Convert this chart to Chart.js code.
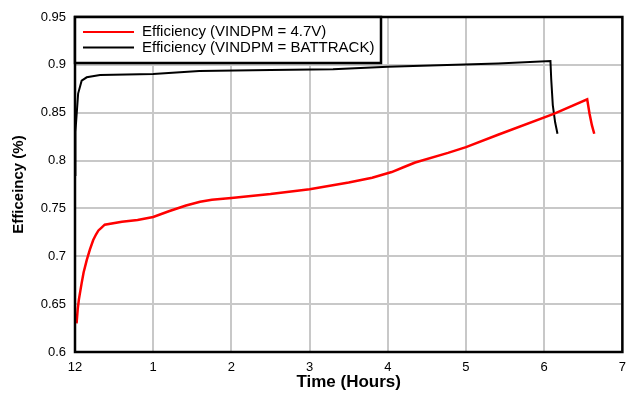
<!DOCTYPE html>
<html lang="en">
<head>
    <meta charset="UTF-8">
    <title>Efficiency vs Time</title>
    <script src="https://cdn.jsdelivr.net/npm/chart.js"></script>
    <style>
        body { margin: 0; background: #fff; }
        #wrap { width: 634px; height: 393px; }
    </style>
</head>
<body>
    <div id="wrap"><canvas id="effChart"></canvas></div>
    <script>
        const xTickLabels = ['12', '1', '2', '3', '4', '5', '6', '7'];
        const yTickLabels = ['0.6', '0.65', '0.7', '0.75', '0.8', '0.85', '0.9', '0.95'];

        const redLabel = 'Efficiency (VINDPM = 4.7V)';
        const redHours = [0.02, 0.035, 0.05, 0.085, 0.11, 0.15, 0.19, 0.233, 0.27, 0.3, 0.34, 0.38, 0.6, 0.8, 1.0, 1.2, 1.42, 1.6, 1.75, 2.0, 2.5, 3.0, 3.5, 3.8, 4.05, 4.2, 4.35, 4.77, 5.0, 5.41, 6.13, 6.55, 6.58, 6.61, 6.64];
        const redEff = [0.630, 0.645, 0.655, 0.672, 0.683, 0.696, 0.707, 0.717, 0.723, 0.727, 0.730, 0.733, 0.736, 0.738, 0.741, 0.747, 0.753, 0.757, 0.759, 0.761, 0.765, 0.770, 0.777, 0.782, 0.788, 0.793, 0.798, 0.808, 0.814, 0.827, 0.849, 0.864, 0.849, 0.837, 0.828];

        const blackLabel = 'Efficiency (VINDPM = BATTRACK)';
        const blackHours = [0.0, 0.005, 0.04, 0.085, 0.15, 0.32, 1.0, 1.59, 2.5, 3.3, 4.0, 5.41, 6.08, 6.09, 6.11, 6.14, 6.17];
        const blackEff = [0.785, 0.83, 0.87, 0.8835, 0.887, 0.8895, 0.8905, 0.8935, 0.8945, 0.8955, 0.898, 0.9015, 0.904, 0.885, 0.858, 0.840, 0.828];

        const toPoints = (xs, ys) => xs.map((x, i) => ({ x: x, y: ys[i] }));

        // frame around plot + boxed legend
        const framePlugin = {
            id: 'frame',
            afterDatasetsDraw(chart) {
                const { ctx, chartArea: a } = chart;
                ctx.save();
                ctx.strokeStyle = '#000';
                ctx.lineWidth = 2.5;
                ctx.strokeRect(a.left, a.top, a.right - a.left, a.bottom - a.top);

                // legend box
                const lx = a.left, ly = a.top, lw = 306, lh = 46;
                ctx.fillStyle = '#fff';
                ctx.fillRect(lx, ly, lw, lh);
                ctx.strokeRect(lx, ly, lw, lh);
                ctx.font = '15px "Liberation Sans", Arial, sans-serif';
                ctx.textBaseline = 'middle';
                chart.data.datasets.forEach((ds, i) => {
                    const y = ly + 15 + i * 15.5;
                    ctx.strokeStyle = ds.borderColor;
                    ctx.lineWidth = 2;
                    ctx.beginPath();
                    ctx.moveTo(lx + 8, y);
                    ctx.lineTo(lx + 59, y);
                    ctx.stroke();
                    ctx.fillStyle = '#000';
                    ctx.fillText(ds.label, lx + 67, y);
                });
                ctx.restore();
            }
        };

        const ctx = document.getElementById('effChart').getContext('2d');
        new Chart(ctx, {
            type: 'line',
            data: {
                datasets: [{
                    label: redLabel,
                    data: toPoints(redHours, redEff),
                    borderColor: '#ff0000',
                    borderWidth: 2.5,
                    pointRadius: 0,
                    tension: 0
                }, {
                    label: blackLabel,
                    data: toPoints(blackHours, blackEff),
                    borderColor: '#000000',
                    borderWidth: 2,
                    pointRadius: 0,
                    tension: 0
                }]
            },
            options: {
                responsive: true,
                maintainAspectRatio: false,
                animation: false,
                layout: { padding: { top: 17, right: 9, left: 0, bottom: 0 } },
                plugins: {
                    legend: { display: false },
                    tooltip: { enabled: false }
                },
                scales: {
                    x: {
                        type: 'linear',
                        min: 0,
                        max: 7,
                        ticks: {
                            stepSize: 1,
                            padding: 8,
                            color: '#000',
                            font: { family: '"Liberation Sans", Arial', size: 13 },
                            callback: (v) => xTickLabels[v]
                        },
                        grid: { color: '#c8c8c8', lineWidth: 2, drawTicks: false },
                        border: { display: false },
                        title: {
                            display: true,
                            text: 'Time (Hours)',
                            color: '#000',
                            padding: { top: 3, bottom: 0 },
                            font: { family: '"Liberation Sans", Arial', size: 17, weight: 'bold' }
                        },
                        afterFit: (s) => { s.height = 41; }
                    },
                    y: {
                        min: 0.6,
                        max: 0.95,
                        ticks: {
                            stepSize: 0.05,
                            padding: 9,
                            color: '#000',
                            font: { family: '"Liberation Sans", Arial', size: 13 },
                            callback: (v, i) => yTickLabels[i]
                        },
                        grid: { color: '#c8c8c8', lineWidth: 2, drawTicks: false },
                        border: { display: false },
                        title: {
                            display: true,
                            text: 'Efficeincy (%)',
                            color: '#000',
                            padding: { top: 10, bottom: 2 },
                            font: { family: '"Liberation Sans", Arial', size: 15, weight: 'bold' }
                        },
                        afterFit: (s) => { s.width = 75; }
                    }
                }
            },
            plugins: [framePlugin]
        });
    </script>
</body>
</html>
